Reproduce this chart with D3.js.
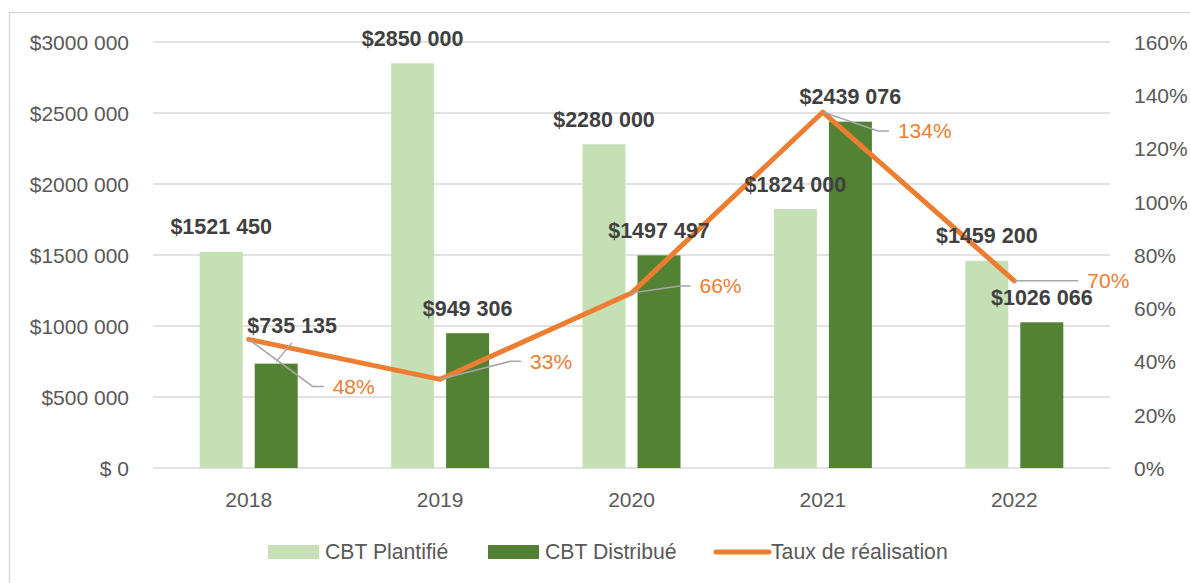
<!DOCTYPE html>
<html>
<head>
<meta charset="utf-8">
<script src="https://cdn.jsdelivr.net/npm/d3@7"></script>
<style>
  html, body { margin: 0; padding: 0; background: #fff; }
  svg { display: block; font-family: "Liberation Sans", Arial, sans-serif; }
</style>
</head>
<body>
<svg id="chart" width="1190" height="583"></svg>
<script>
// ---- data ----
const categories = ["2018", "2019", "2020", "2021", "2022"];
const seriesNames = ["CBT Plantifié", "CBT Distribué", "Taux de réalisation"];
const planned = [1521450, 2850000, 2280000, 1824000, 1459200];
const distributed = [735135, 949306, 1497497, 2439076, 1026066];
const rate = [0.483, 0.333, 0.657, 1.337, 0.703];
const leftTicks = [0, 500000, 1000000, 1500000, 2000000, 2500000, 3000000];
const rightTicks = [0, 0.2, 0.4, 0.6, 0.8, 1.0, 1.2, 1.4, 1.6];

// ---- layout (positions/styles kept separate from data) ----
const plot = { left: 153, right: 1110, top: 42, bottom: 468 };
const colors = { planned: "#C5E0B4", distributed: "#548235", rate: "#ED7D31",
  grid: "#D9D9D9", axisText: "#595959", label: "#404040", leader: "#A6A6A6" };
const fs = { axis: "21px", label: "21.5px", legend: "21.2px" };
// manual label offsets for the rate labels (dx to label start, dy) relative to point
const rateLabelOffset = [[84, 47], [90, -18], [68, -7], [75, 19], [73, 0]];
// manual offset for distributed labels (dx, dy relative to default position)
const distLabelOffset = [[16, -13], [0, 0], [0, 0], [0, 0], [0, 0]];

const svg = d3.select("#chart");

// chart border
svg.append("rect").attr("x", 9.5).attr("y", 12.5).attr("width", 1200).attr("height", 600)
  .attr("fill", "none").attr("stroke", colors.grid).attr("stroke-width", 1.5);

// scales
const x = d3.scaleBand().domain(categories).range([plot.left, plot.right])
  .paddingInner(0.488).paddingOuter(0.244);
const xs = d3.scaleBand().domain(["p", "d"]).range([0, x.bandwidth()])
  .paddingInner(0.2182).paddingOuter(0);
const y = d3.scaleLinear().domain([0, 3000000]).range([plot.bottom, plot.top]);
const y2 = d3.scaleLinear().domain([0, 1.6]).range([plot.bottom, plot.top]);

const fmtMoney = v => {
  if (v === 0) return "$ 0";
  const th = Math.floor(v / 1000), rest = v % 1000;
  return th > 0 ? "$" + th + " " + String(rest).padStart(3, "0") : "$" + rest;
};
const fmtPct = v => Math.round(v * 100) + "%";

// gridlines
svg.append("g").selectAll("line").data(leftTicks).join("line")
  .attr("x1", plot.left).attr("x2", plot.right)
  .attr("y1", d => y(d)).attr("y2", d => y(d))
  .attr("stroke", colors.grid).attr("stroke-width", 1.5);

// left axis
const leftAxis = svg.append("g").attr("transform", `translate(${plot.left - 24},0)`)
  .call(d3.axisLeft(y).tickValues(leftTicks).tickFormat(fmtMoney).tickSize(0).tickPadding(0));
leftAxis.select(".domain").remove();
leftAxis.selectAll("text").attr("fill", colors.axisText).style("font-size", fs.axis)
  .attr("font-family", null).attr("dy", "0.35em");

// right axis
const rightAxis = svg.append("g").attr("transform", `translate(${plot.right + 24},0)`)
  .call(d3.axisRight(y2).tickValues(rightTicks).tickFormat(fmtPct).tickSize(0).tickPadding(0));
rightAxis.select(".domain").remove();
rightAxis.selectAll("text").attr("fill", colors.axisText).style("font-size", fs.axis)
  .attr("font-family", null).attr("dy", "0.35em");

// bottom axis
const bottomAxis = svg.append("g").attr("transform", `translate(0,${plot.bottom + 32})`)
  .call(d3.axisBottom(x).tickSize(0).tickPadding(0));
bottomAxis.select(".domain").remove();
bottomAxis.selectAll("text").attr("fill", colors.axisText).style("font-size", fs.axis)
  .attr("font-family", null).attr("dy", "0.35em");

// bars
const groups = svg.append("g").selectAll("g").data(categories).join("g")
  .attr("transform", d => `translate(${x(d)},0)`);
groups.append("rect")
  .attr("x", xs("p")).attr("width", xs.bandwidth())
  .attr("y", (d, i) => y(planned[i])).attr("height", (d, i) => y(0) - y(planned[i]))
  .attr("fill", colors.planned);
groups.append("rect")
  .attr("x", xs("d")).attr("width", xs.bandwidth())
  .attr("y", (d, i) => y(distributed[i])).attr("height", (d, i) => y(0) - y(distributed[i]))
  .attr("fill", colors.distributed);

// line
const cx = d => x(d) + x.bandwidth() / 2;
const lineGen = d3.line().x((d, i) => cx(categories[i])).y(d => y2(d));
svg.append("path").datum(rate).attr("d", lineGen)
  .attr("fill", "none").attr("stroke", colors.rate).attr("stroke-width", 5)
  .attr("stroke-linejoin", "round").attr("stroke-linecap", "round");

// leader lines for distributed labels with offsets
const labelsG = svg.append("g");
categories.forEach((c, i) => {
  const [dx, dy] = distLabelOffset[i];
  const bx = x(c) + xs("d") + xs.bandwidth() / 2;
  const by = y(distributed[i]);
  if (dx !== 0 || dy !== 0) {
    const lx = bx + dx, ly = by - 25 + dy;
    labelsG.append("line").attr("x1", lx).attr("y1", ly + 17).attr("x2", bx).attr("y2", by - 2)
      .attr("stroke", colors.leader).attr("stroke-width", 1.5);
  }
});

// rate leader lines + labels
categories.forEach((c, i) => {
  const px = cx(c), py = y2(rate[i]);
  const [dx, dy] = rateLabelOffset[i];
  const lx = px + dx, ly = py + dy;
  labelsG.append("path")
    .attr("d", d3.line()([[px, py], [lx - 20, ly], [lx - 9, ly]]))
    .attr("fill", "none").attr("stroke", colors.leader).attr("stroke-width", 1.5);
  labelsG.append("text").attr("x", lx).attr("y", ly).attr("dy", "0.35em")
    .attr("fill", colors.rate).style("font-size", fs.axis).text(fmtPct(rate[i]));
});

// planned labels
categories.forEach((c, i) => {
  const bx = x(c) + xs("p") + xs.bandwidth() / 2;
  labelsG.append("text").attr("x", bx).attr("y", y(planned[i]) - 25).attr("dy", "0.35em")
    .attr("text-anchor", "middle").attr("fill", colors.label)
    .style("font-size", fs.label).style("font-weight", "bold").text(fmtMoney(planned[i]));
});
// distributed labels
categories.forEach((c, i) => {
  const [dx, dy] = distLabelOffset[i];
  const bx = x(c) + xs("d") + xs.bandwidth() / 2;
  labelsG.append("text").attr("x", bx + dx).attr("y", y(distributed[i]) - 25 + dy).attr("dy", "0.35em")
    .attr("text-anchor", "middle").attr("fill", colors.label)
    .style("font-size", fs.label).style("font-weight", "bold").text(fmtMoney(distributed[i]));
});

// legend
const legend = svg.append("g");
const legendItems = [
  { name: seriesNames[0], type: "rect", color: colors.planned, x: 268 },
  { name: seriesNames[1], type: "rect", color: colors.distributed, x: 488 },
  { name: seriesNames[2], type: "line", color: colors.rate, x: 714 }
];
const ly0 = 552;
legendItems.forEach(it => {
  if (it.type === "rect") {
    legend.append("rect").attr("x", it.x).attr("y", ly0 - 7).attr("width", 51).attr("height", 14)
      .attr("fill", it.color);
  } else {
    legend.append("line").attr("x1", it.x + 2).attr("x2", it.x + 55).attr("y1", ly0).attr("y2", ly0)
      .attr("stroke", it.color).attr("stroke-width", 5).attr("stroke-linecap", "round");
  }
  legend.append("text").attr("x", it.x + 57).attr("y", ly0).attr("dy", "0.35em")
    .attr("fill", colors.axisText).style("font-size", fs.legend).text(it.name);
});
</script>
</body>
</html>
